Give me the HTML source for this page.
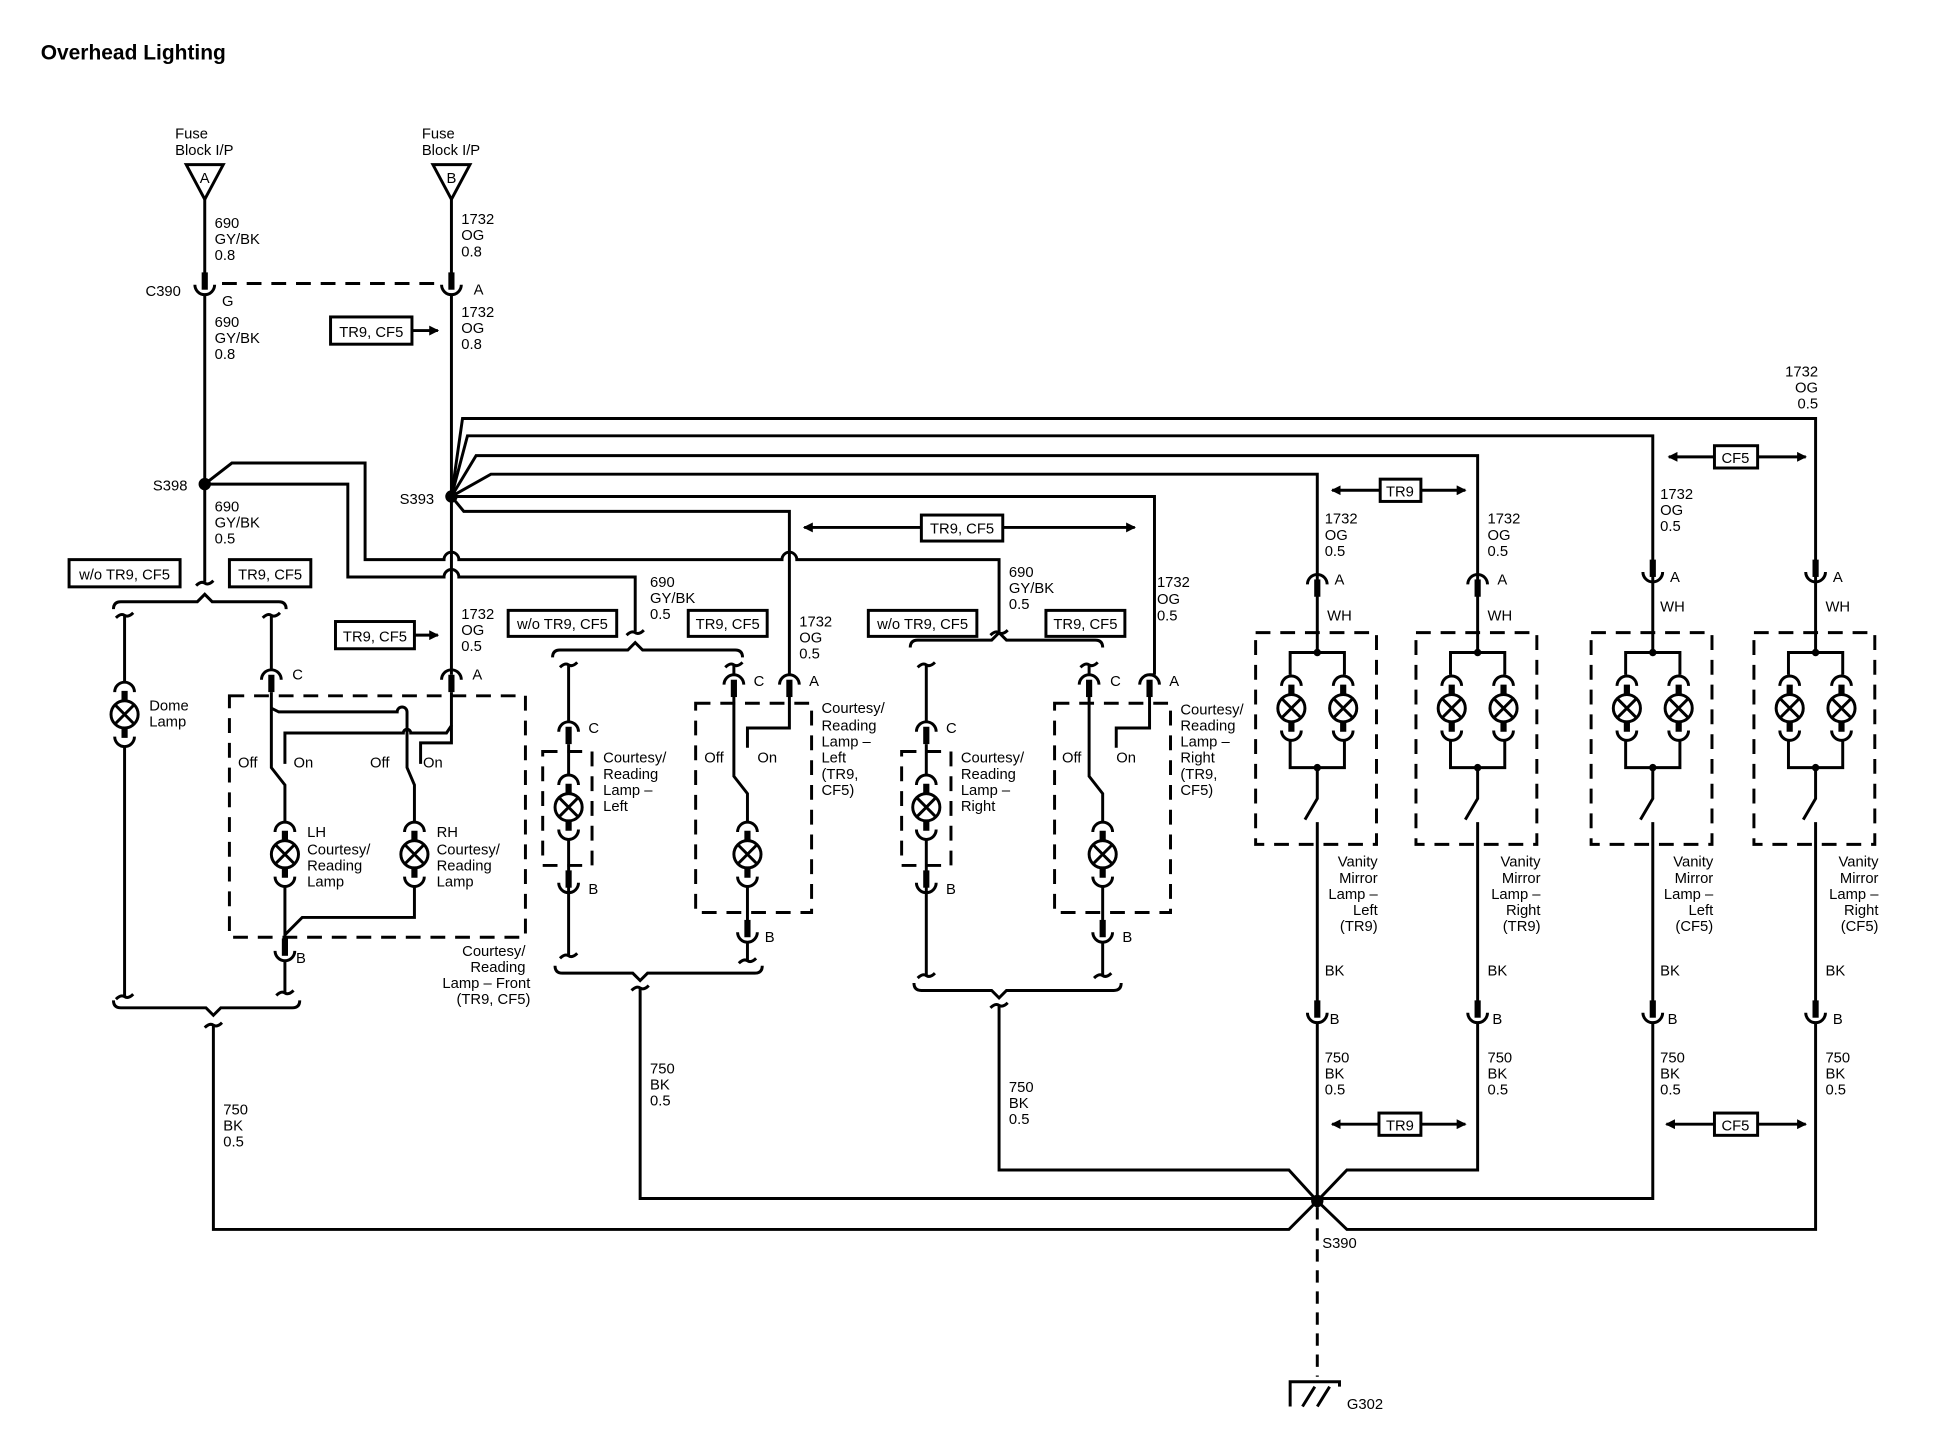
<!DOCTYPE html>
<html><head><meta charset="utf-8"><style>
html,body{margin:0;padding:0;background:#fff}
svg{display:block}
text{font-family:"Liberation Sans",sans-serif;font-size:12px;fill:#000}
.t{font-size:17px;font-weight:bold}
.w{fill:none;stroke:#000;stroke-width:2.4}
.d{fill:none;stroke:#000;stroke-width:2.4;stroke-dasharray:12 8}
.th{stroke:#000;stroke-width:5}
.bx{fill:#fff;stroke:#000;stroke-width:2.4}
.r{text-anchor:end}
.m{text-anchor:middle}
</style></head><body>
<svg width="1934" height="1456" viewBox="0 0 1568 1176" preserveAspectRatio="none">
<defs>
<g id="L"><circle r="11" class="w"/><path class="w" d="M-7.5,-7.5 L7.5,7.5 M-7.5,7.5 L7.5,-7.5"/><path class="th" d="M0,-11 V-19 M0,11 V19"/><path class="w" d="M-8,-18 A8,8 0 0 1 8,-18 M-8,18 A8,8 0 0 0 8,18"/></g>
<g id="F"><path class="w" d="M-8,4 A8,8 0 0 1 8,4"/><path class="th" d="M0,0 V14"/></g>
<g id="M"><path class="w" d="M-8,-4 A8,8 0 0 0 8,-4"/><path class="th" d="M0,0 V-14"/></g>
<g id="K"><path class="w" d="M-7,2 Q-3,-2 0,0 Q3,2 7,-2"/></g>
<g id="V">
<path class="w" d="M0,460 V527 M-22,545 V527 H22 V545 M-22,598 V620 H22 V598 M0,620 V645 L-10,662 M0,664 V815"/>
<circle cy="527" r="3"/><circle cy="620" r="3"/>
<use href="#L" x="-21" y="572"/><use href="#L" x="21" y="572"/>
<rect x="-50" y="511" width="98" height="171" class="d"/>
<use href="#M" x="0" y="822"/>
</g>
<marker id="ar" markerWidth="8" markerHeight="8" refX="7" refY="4" orient="auto" markerUnits="userSpaceOnUse"><path d="M0,0 L8,4 L0,8 z"/></marker>
</defs>

<text x="33" y="48" class="t">Overhead Lighting</text>

<text x="142" y="112">Fuse</text><text x="142" y="125">Block I/P</text>
<path class="w" d="M151,133 H181 L166,161 Z"/><text x="166" y="148" class="m">A</text>
<text x="342" y="112">Fuse</text><text x="342" y="125">Block I/P</text>
<path class="w" d="M351,133 H381 L366,161 Z"/><text x="366" y="148" class="m">B</text>

<path class="w" d="M166,161 V228 M166,238 V470"/>
<use href="#M" x="166" y="234"/>
<path class="w" d="M366,161 V228 M366,238 V545"/>
<use href="#M" x="366" y="234"/>
<path class="d" d="M180,229 H358"/>
<text x="118" y="239">C390</text><text x="180" y="247">G</text><text x="384" y="238">A</text>
<text x="174" y="184">690</text><text x="174" y="197">GY/BK</text><text x="174" y="210">0.8</text>
<text x="374" y="181">1732</text><text x="374" y="194">OG</text><text x="374" y="207">0.8</text>
<text x="174" y="264">690</text><text x="174" y="277">GY/BK</text><text x="174" y="290">0.8</text>
<text x="374" y="256">1732</text><text x="374" y="269">OG</text><text x="374" y="282">0.8</text>
<rect x="268" y="256" width="66" height="22" class="bx"/><text x="301" y="272" class="m">TR9, CF5</text>
<path class="w" d="M334,267 H355" marker-end="url(#ar)"/>

<circle cx="166" cy="391" r="5"/><text x="124" y="396">S398</text>
<text x="174" y="413">690</text><text x="174" y="426">GY/BK</text><text x="174" y="439">0.5</text>
<path class="w" d="M166,391 L188,374 H296 V452 H360 A6,6 0 0 1 372,452 H634 A6,6 0 0 1 646,452 H810 V510"/>
<path class="w" d="M166,391 H282 V466 H360 A6,6 0 0 1 372,466 H515 V510"/>

<circle cx="366" cy="401" r="5"/><text x="324" y="407">S393</text>
<path class="w" d="M366,401 L375,338 H1472 V460"/>
<path class="w" d="M366,401 L379,352 H1340 V460"/>
<path class="w" d="M366,401 L386,368 H1198 V460"/>
<path class="w" d="M366,401 L398,383 H1068 V460"/>
<path class="w" d="M366,401 H936 V545"/>
<path class="w" d="M366,401 L376,413 H640 V545"/>

<rect x="56" y="452" width="90" height="22" class="bx"/><text x="101" y="468" class="m">w/o TR9, CF5</text>
<rect x="186" y="452" width="66" height="22" class="bx"/><text x="219" y="468" class="m">TR9, CF5</text>
<use href="#K" x="166" y="471"/>
<path class="w" d="M92,492 Q92,486 98,486 H160 L166,480 L172,486 H226 Q232,486 232,492"/>
<use href="#K" x="101" y="497"/><use href="#K" x="220" y="497"/>
<path class="w" d="M101,497 V551 M101,603 V805"/>
<use href="#L" x="101" y="577"/>
<text x="121" y="574">Dome</text><text x="121" y="587">Lamp</text>
<use href="#K" x="101" y="805"/>

<text x="374" y="500">1732</text><text x="374" y="513">OG</text><text x="374" y="526">0.5</text>
<rect x="272" y="502" width="64" height="22" class="bx"/><text x="304" y="518" class="m">TR9, CF5</text>
<path class="w" d="M336,513 H355" marker-end="url(#ar)"/>
<path class="w" d="M220,497 V541"/>
<use href="#F" x="220" y="545"/><use href="#F" x="366" y="545"/>
<text x="237" y="549">C</text><text x="383" y="549">A</text>
<rect x="186" y="562" width="240" height="195" class="d"/>
<path class="w" d="M220,559 V620 L231,634 V664"/>
<path class="w" d="M220,572 L226,575 H322 A4,4 0 0 1 330,575 V620 L336,634 V664"/>
<path class="w" d="M366,559 V586 L362,592 H333 A3,3 0 0 0 327,592 H231 V617"/>
<path class="w" d="M366,586 V600 H341 V617"/>
<use href="#L" x="231" y="690"/><use href="#L" x="336" y="690"/>
<path class="w" d="M231,716 V770 M336,716 V741 H245 L231,755"/>
<use href="#M" x="231" y="772"/>
<path class="w" d="M231,776 V802"/><use href="#K" x="231" y="802"/>
<text x="240" y="778">B</text>
<text x="193" y="620">Off</text><text x="238" y="620">On</text><text x="300" y="620">Off</text><text x="343" y="620">On</text>
<text x="249" y="676">LH</text><text x="249" y="690">Courtesy/</text><text x="249" y="703">Reading</text><text x="249" y="716">Lamp</text>
<text x="354" y="676">RH</text><text x="354" y="690">Courtesy/</text><text x="354" y="703">Reading</text><text x="354" y="716">Lamp</text>
<text x="426" y="772" class="r">Courtesy/</text><text x="426" y="785" class="r">Reading</text><text x="430" y="798" class="r">Lamp – Front</text><text x="430" y="811" class="r">(TR9, CF5)</text>
<path class="w" d="M92,808 Q92,814 98,814 H167 L173,820 L179,814 H237 Q243,814 243,808"/>
<use href="#K" x="173" y="828"/>
<path class="w" d="M173,828 V993 H1045 L1068,970"/>
<text x="181" y="900">750</text><text x="181" y="913">BK</text><text x="181" y="926">0.5</text>

<text x="527" y="474">690</text><text x="527" y="487">GY/BK</text><text x="527" y="500">0.5</text>
<rect x="412" y="493" width="88" height="21" class="bx"/><text x="456" y="508" class="m">w/o TR9, CF5</text>
<rect x="558" y="493" width="64" height="21" class="bx"/><text x="590" y="508" class="m">TR9, CF5</text>
<use href="#K" x="515" y="511"/>
<path class="w" d="M448,531 Q448,525 454,525 H509 L515,519 L521,525 H596 Q602,525 602,531"/>
<use href="#K" x="461" y="537"/><use href="#K" x="595" y="537"/>
<path class="w" d="M461,537 V583"/><use href="#F" x="461" y="587"/><text x="477" y="592">C</text>
<rect x="440" y="607" width="40" height="92" class="d"/>
<use href="#L" x="461" y="652"/>
<path class="w" d="M461,601 V626 M461,678 V772"/>
<use href="#M" x="461" y="717"/><text x="477" y="722">B</text>
<use href="#K" x="461" y="772"/>
<text x="489" y="616">Courtesy/</text><text x="489" y="629">Reading</text><text x="489" y="642">Lamp –</text><text x="489" y="655">Left</text>

<text x="648" y="506">1732</text><text x="648" y="519">OG</text><text x="648" y="532">0.5</text>
<path class="w" d="M595,537 V545"/>
<use href="#F" x="595" y="549"/><use href="#F" x="640" y="549"/>
<text x="611" y="554">C</text><text x="656" y="554">A</text>
<rect x="564" y="568" width="94" height="169" class="d"/>
<path class="w" d="M595,563 V627 L606,641 V664"/>
<path class="w" d="M640,563 V588 H606 V604"/>
<text x="571" y="616">Off</text><text x="614" y="616">On</text>
<use href="#L" x="606" y="690"/>
<path class="w" d="M606,716 V754"/><use href="#M" x="606" y="757"/><text x="620" y="761">B</text>
<path class="w" d="M606,761 V776"/><use href="#K" x="606" y="776"/>
<text x="666" y="576">Courtesy/</text><text x="666" y="590">Reading</text><text x="666" y="603">Lamp –</text><text x="666" y="616">Left</text><text x="666" y="629">(TR9,</text><text x="666" y="642">CF5)</text>
<path class="w" d="M450,780 Q450,786 456,786 H513 L519,792 L525,786 H612 Q618,786 618,780"/>
<use href="#K" x="519" y="798"/>
<path class="w" d="M519,798 V968 H1068"/>
<text x="527" y="867">750</text><text x="527" y="880">BK</text><text x="527" y="893">0.5</text>

<rect x="747" y="416" width="66" height="21" class="bx"/><text x="780" y="431" class="m">TR9, CF5</text>
<path class="w" d="M747,426 H652" marker-end="url(#ar)"/><path class="w" d="M813,426 H920" marker-end="url(#ar)"/>

<text x="818" y="466">690</text><text x="818" y="479">GY/BK</text><text x="818" y="492">0.5</text>
<rect x="704" y="493" width="88" height="21" class="bx"/><text x="748" y="508" class="m">w/o TR9, CF5</text>
<rect x="848" y="493" width="64" height="21" class="bx"/><text x="880" y="508" class="m">TR9, CF5</text>
<use href="#K" x="810" y="511"/>
<path class="w" d="M738,523 Q738,517 744,517 H804 L810,511 L816,517 H888 Q894,517 894,523"/>
<use href="#K" x="751" y="537"/><use href="#K" x="883" y="537"/>
<path class="w" d="M751,537 V583"/><use href="#F" x="751" y="587"/><text x="767" y="592">C</text>
<rect x="731" y="607" width="40" height="92" class="d"/>
<use href="#L" x="751" y="652"/>
<path class="w" d="M751,601 V626 M751,678 V788"/>
<use href="#M" x="751" y="717"/><text x="767" y="722">B</text>
<use href="#K" x="751" y="788"/>
<text x="779" y="616">Courtesy/</text><text x="779" y="629">Reading</text><text x="779" y="642">Lamp –</text><text x="779" y="655">Right</text>

<text x="938" y="474">1732</text><text x="938" y="488">OG</text><text x="938" y="501">0.5</text>
<path class="w" d="M883,537 V545"/>
<use href="#F" x="883" y="549"/><use href="#F" x="932" y="549"/>
<text x="900" y="554">C</text><text x="948" y="554">A</text>
<path class="w" d="M936,545 H932"/>
<rect x="855" y="568" width="94" height="169" class="d"/>
<path class="w" d="M883,563 V627 L894,641 V664"/>
<path class="w" d="M932,563 V588 H905 V604"/>
<text x="861" y="616">Off</text><text x="905" y="616">On</text>
<use href="#L" x="894" y="690"/>
<path class="w" d="M894,716 V754"/><use href="#M" x="894" y="757"/><text x="910" y="761">B</text>
<path class="w" d="M894,761 V788"/><use href="#K" x="894" y="788"/>
<text x="957" y="577">Courtesy/</text><text x="957" y="590">Reading</text><text x="957" y="603">Lamp –</text><text x="957" y="616">Right</text><text x="957" y="629">(TR9,</text><text x="957" y="642">CF5)</text>
<path class="w" d="M741,794 Q741,800 747,800 H804 L810,806 L816,800 H903 Q909,800 909,794"/>
<use href="#K" x="810" y="812"/>
<path class="w" d="M810,812 V945 H1045 L1068,970"/>
<text x="818" y="882">750</text><text x="818" y="895">BK</text><text x="818" y="908">0.5</text>

<use href="#V" x="1068"/><use href="#F" x="1068" y="468"/>
<use href="#V" x="1198"/><use href="#F" x="1198" y="468"/>
<use href="#V" x="1340"/><use href="#M" x="1340" y="466"/>
<use href="#V" x="1472"/><use href="#M" x="1472" y="466"/>

<text x="1074" y="423">1732</text><text x="1074" y="436">OG</text><text x="1074" y="449">0.5</text>
<text x="1206" y="423">1732</text><text x="1206" y="436">OG</text><text x="1206" y="449">0.5</text>
<text x="1346" y="403">1732</text><text x="1346" y="416">OG</text><text x="1346" y="429">0.5</text>
<text x="1474" y="304" class="r">1732</text><text x="1474" y="317" class="r">OG</text><text x="1474" y="330" class="r">0.5</text>
<text x="1082" y="472">A</text><text x="1214" y="472">A</text><text x="1354" y="470">A</text><text x="1486" y="470">A</text>
<text x="1076" y="501">WH</text><text x="1206" y="501">WH</text><text x="1346" y="494">WH</text><text x="1480" y="494">WH</text>

<text x="1117" y="700" class="r">Vanity</text><text x="1117" y="713" class="r">Mirror</text><text x="1117" y="726" class="r">Lamp –</text><text x="1117" y="739" class="r">Left</text><text x="1117" y="752" class="r">(TR9)</text>
<text x="1249" y="700" class="r">Vanity</text><text x="1249" y="713" class="r">Mirror</text><text x="1249" y="726" class="r">Lamp –</text><text x="1249" y="739" class="r">Right</text><text x="1249" y="752" class="r">(TR9)</text>
<text x="1389" y="700" class="r">Vanity</text><text x="1389" y="713" class="r">Mirror</text><text x="1389" y="726" class="r">Lamp –</text><text x="1389" y="739" class="r">Left</text><text x="1389" y="752" class="r">(CF5)</text>
<text x="1523" y="700" class="r">Vanity</text><text x="1523" y="713" class="r">Mirror</text><text x="1523" y="726" class="r">Lamp –</text><text x="1523" y="739" class="r">Right</text><text x="1523" y="752" class="r">(CF5)</text>

<text x="1074" y="788">BK</text><text x="1206" y="788">BK</text><text x="1346" y="788">BK</text><text x="1480" y="788">BK</text>
<text x="1078" y="827">B</text><text x="1210" y="827">B</text><text x="1352" y="827">B</text><text x="1486" y="827">B</text>
<text x="1074" y="858">750</text><text x="1074" y="871">BK</text><text x="1074" y="884">0.5</text>
<text x="1206" y="858">750</text><text x="1206" y="871">BK</text><text x="1206" y="884">0.5</text>
<text x="1346" y="858">750</text><text x="1346" y="871">BK</text><text x="1346" y="884">0.5</text>
<text x="1480" y="858">750</text><text x="1480" y="871">BK</text><text x="1480" y="884">0.5</text>

<path class="w" d="M1068,826 V970"/>
<path class="w" d="M1198,826 V945 H1092 L1068,970"/>
<path class="w" d="M1340,826 V968 H1068"/>
<path class="w" d="M1472,826 V993 H1092 L1068,970"/>

<rect x="1119" y="387" width="33" height="18" class="bx"/><text x="1135" y="401" class="m">TR9</text>
<path class="w" d="M1119,396 H1080" marker-end="url(#ar)"/><path class="w" d="M1152,396 H1188" marker-end="url(#ar)"/>
<rect x="1390" y="360" width="35" height="18" class="bx"/><text x="1407" y="374" class="m">CF5</text>
<path class="w" d="M1390,369 H1353" marker-end="url(#ar)"/><path class="w" d="M1425,369 H1464" marker-end="url(#ar)"/>
<rect x="1118" y="899" width="34" height="18" class="bx"/><text x="1135" y="913" class="m">TR9</text>
<path class="w" d="M1118,908 H1080" marker-end="url(#ar)"/><path class="w" d="M1152,908 H1188" marker-end="url(#ar)"/>
<rect x="1390" y="899" width="35" height="18" class="bx"/><text x="1407" y="913" class="m">CF5</text>
<path class="w" d="M1390,908 H1351" marker-end="url(#ar)"/><path class="w" d="M1425,908 H1464" marker-end="url(#ar)"/>

<circle cx="1068" cy="970" r="5"/>
<text x="1072" y="1008">S390</text>
<path class="d" d="M1068,975 V1112" style="stroke-dasharray:10 7"/>
<path class="w" d="M1046,1136 V1116 H1086 V1120 M1056,1136 L1066,1120 M1068,1136 L1078,1120"/>
<text x="1092" y="1138">G302</text>
</svg>
</body></html>
